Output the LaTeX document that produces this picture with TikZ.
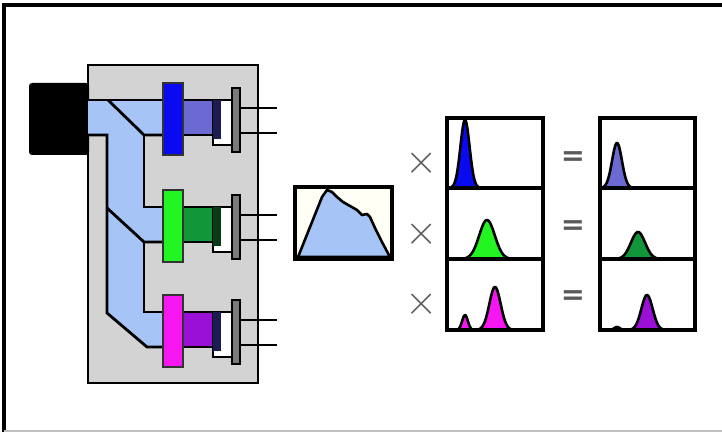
\documentclass[tikz,border=0pt]{standalone}
\usepackage{fontspec}
\newfontfamily\opfont{DejaVu Sans}
\definecolor{mPanel}{HTML}{D3D3D3}
\definecolor{mGuide}{HTML}{A6C4F5}
\definecolor{mBlue}{HTML}{0A0AF0}
\definecolor{mSlate}{HTML}{6A6AD2}
\definecolor{mGreen}{HTML}{22F522}
\definecolor{mDkGreen}{HTML}{12963A}
\definecolor{mMagenta}{HTML}{F516F0}
\definecolor{mPurple}{HTML}{9A10D6}
\definecolor{mNavy}{HTML}{1C1C50}
\definecolor{mPin}{HTML}{7A7A7A}
\definecolor{mCream}{HTML}{FFFFF6}
\definecolor{mOp}{HTML}{5A5A5A}
\usepackage{tikz}

\begin{document}
\begin{tikzpicture}[x=0.5pt, y=-0.5pt,
  edge/.style={draw=black, line width=1.4pt},
  panel/.style={draw=black, line width=1.8pt},
  curve/.style={draw=black, line width=1.3pt, line join=round},
  op/.style={text=mOp, font=\huge, inner sep=0pt}]
  \useasboundingbox (0,0) rectangle (722,432);
  % outer frame
  \draw[line width=1.6pt] (722,5) -- (4,5) -- (4,432);
  \draw[black!25, line width=1pt] (4,431) -- (722,431);

  % instrument body and lamp housing
  \filldraw[fill=mPanel, edge] (88,65) rectangle (258,383);
  \fill[rounded corners=1.5pt] (29,83) rectangle (89,155);

  % light guide splitting into three channels
  \fill[mGuide] (88,100) -- (163,100) -- (163,135) -- (144,135) -- (144,207)
    -- (163,207) -- (163,242) -- (144,242) -- (144,312) -- (163,312)
    -- (163,347) -- (147,347) -- (107,313) -- (107,135) -- (88,135) -- cycle;
  \draw[edge] (88,100) -- (163,100);
  \draw[edge] (108,100) -- (144,135) -- (163,135);
  \draw[edge] (88,135) -- (107,135) -- (107,313) -- (147,347) -- (163,347);
  \draw[edge] (144,135) -- (144,207) -- (163,207);
  \draw[edge] (107,208) -- (144,242) -- (163,242);
  \draw[edge] (144,242) -- (144,312) -- (163,312);

  % filters, channels and detectors
  \foreach \yt/\fcol/\ccol/\dcol in {100/mBlue/mSlate/mNavy,
      207/mGreen/mDkGreen/mDkGreen!40!black, 312/mMagenta/mPurple/mNavy}{
    \fill[\ccol] (183,\yt) rectangle (213,\yt+35);
    \draw[edge] (183,\yt) -- (213,\yt) (183,\yt+35) -- (213,\yt+35);
    \filldraw[fill=white, edge] (213,\yt) rectangle (232,\yt+45);
    \fill[\dcol] (213,\yt) rectangle (221,\yt+39);
    \filldraw[fill=\fcol, draw=black!80, line width=1.3pt] (163,\yt-17) rectangle (183,\yt+55);
    \filldraw[fill=mPin, edge] (232,\yt-12) rectangle (240,\yt+52);
    \draw[edge] (240,\yt+8) -- (277,\yt+8) (240,\yt+33) -- (277,\yt+33);
  }

  % lamp spectrum
  \fill[mCream] (295,187) rectangle (392,259);
  \filldraw[fill=mGuide, curve] (298,257) -- (310,227) -- (322,197) -- (327,190)
    -- (332,192) -- (337,197) -- (343,202) -- (350,206) -- (357,210) -- (362,215)
    -- (367,214) -- (370,217) -- (375,228) -- (382,242) -- (390,257) -- cycle;
  \draw[panel] (295,187) rectangle (392,259);

  % filter transmission curves
  \fill[white] (447,118) rectangle (543,330);
  \filldraw[fill=mBlue, curve] plot[domain=449:485, samples=60]
    (\x, {188-68*exp(-((\x-465)/6.5)^2)}) -- cycle;
  \filldraw[fill=mGreen, curve] plot[domain=455:520, samples=60]
    (\x, {259-39*exp(-((\x-487)/11)^2)}) -- cycle;
  \filldraw[fill=mMagenta, curve] plot[domain=453:520, samples=80]
    (\x, {330-15*exp(-((\x-465)/4)^2)-43*exp(-((\x-495)/8)^2)}) -- cycle;
  \draw[panel] (447,118) rectangle (543,330) (447,188) -- (543,188) (447,259) -- (543,259);

  % filtered emission curves
  \fill[white] (600,118) rectangle (695,330);
  \filldraw[fill=mSlate, curve] plot[domain=601:634, samples=60]
    (\x, {188-45*exp(-((\x-617)/7)^2)}) -- cycle;
  \filldraw[fill=mDkGreen, curve] plot[domain=615:662, samples=60]
    (\x, {259-27*exp(-((\x-638)/10)^2)}) -- cycle;
  \filldraw[fill=mPurple, curve] plot[domain=606:668, samples=80]
    (\x, {330-3*exp(-((\x-617)/4)^2)-35*exp(-((\x-647)/8)^2)}) -- cycle;
  \draw[panel] (600,118) rectangle (695,330) (600,188) -- (695,188) (600,259) -- (695,259);

  % operators between the panels
  \node[op] (times1) at (422,163) {$\times$};
  \node[op] (times2) at (422,234) {$\times$};
  \node[op] (times3) at (422,304) {$\times$};
  \node[op, font=\opfont\bfseries\Large] (equals1) at (573,159) {=};
  \node[op, font=\opfont\bfseries\Large] (equals2) at (573,228) {=};
  \node[op, font=\opfont\bfseries\Large] (equals3) at (573,298) {=};
\end{tikzpicture}
\end{document}
